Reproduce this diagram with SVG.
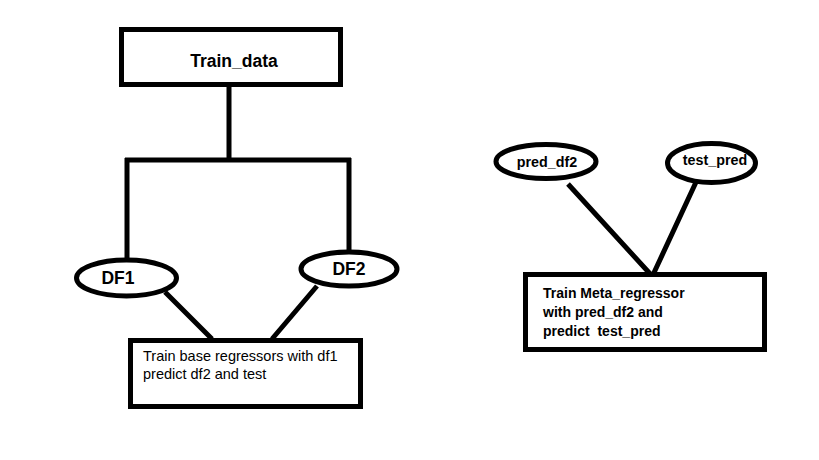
<svg xmlns="http://www.w3.org/2000/svg" width="819" height="460" viewBox="0 0 819 460">
<style>
.s{fill:#fff;stroke:#000;stroke-width:5}
.c{fill:none;stroke:#000;stroke-width:5}
.b{font-family:"Liberation Sans",Arial,sans-serif;font-weight:bold;fill:#000}
.r{font-family:"Liberation Sans",Arial,sans-serif;fill:#000;font-size:14.5px}
</style>
<rect width="819" height="460" fill="#fff"/>
<g id="connectors">
<path class="c" d="M229,87 V160 M125,160 H351 M127,158 V259 M349,158 V251"/>
<path class="c" d="M165,292 L212,339 M317,286 L272,339"/>
<path class="c" d="M568,184 L653,277 M697,180 L652,277"/>
</g>
<g id="train_data">
<rect class="s" x="121.5" y="29.5" width="219" height="55"/>
<text class="b" x="234" y="67" font-size="17.5" text-anchor="middle">Train_data</text>
</g>
<g id="df1">
<ellipse class="s" cx="126.5" cy="278" rx="50" ry="18"/>
<text class="b" x="118" y="284" font-size="17.5" text-anchor="middle">DF1</text>
</g>
<g id="df2">
<ellipse class="s" cx="349" cy="269" rx="48" ry="17"/>
<text class="b" x="349" y="275" font-size="17.5" text-anchor="middle">DF2</text>
</g>
<g id="base">
<rect class="s" x="130.5" y="340.5" width="230" height="66"/>
<text class="r" x="143" y="361">Train base regressors with df1</text>
<text class="r" x="143" y="379">predict df2 and test</text>
</g>
<g id="pred_df2">
<ellipse class="s" cx="546" cy="161.5" rx="50" ry="17"/>
<text class="b" x="547" y="167" font-size="14.3" text-anchor="middle">pred_df2</text>
</g>
<g id="test_pred">
<ellipse class="s" cx="711.5" cy="163" rx="44" ry="19.5"/>
<text class="b" x="715" y="165" font-size="14.3" text-anchor="middle">test_pred</text>
</g>
<g id="meta">
<rect class="s" x="525.5" y="274.5" width="239" height="75"/>
<text class="b" x="543" y="298" font-size="14">Train Meta_regressor</text>
<text class="b" x="543" y="317" font-size="14">with pred_df2 and</text>
<text class="b" x="543" y="336" font-size="14" xml:space="preserve">predict  test_pred</text>
</g>
</svg>
